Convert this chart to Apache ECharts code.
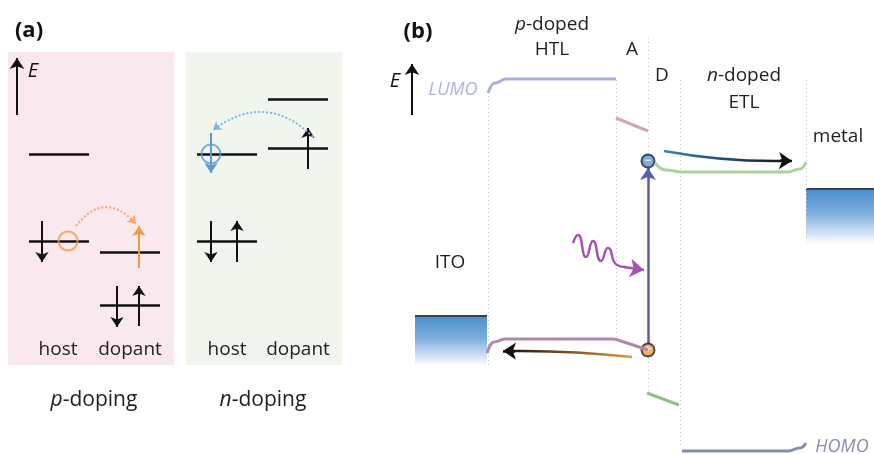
<!DOCTYPE html>
<html>
<head>
<meta charset="utf-8">
<script src="https://cdn.jsdelivr.net/npm/echarts@6/dist/echarts.min.js"></script>
<style>
html, body { margin: 0; padding: 0; background: #fff; }
#chart { width: 874px; height: 454px; }
</style>
</head>
<body>
<div id="chart"></div>
<script>
// everything lives on one pixel-like plane: x 0..874, y 0..454 (down)

// (a) background panels [x0, y0, x1, y1]
const pDopingBox = [8, 52, 174, 365];
const nDopingBox = [186, 52, 342, 365];

// (a) energy levels [x0, x1, y]
const pLevels = [[29, 89, 154], [29, 89, 241], [100, 160, 252], [100, 160, 305]];
const nLevels = [[268, 328, 99], [268, 328, 148], [197, 257, 154], [197, 257, 241]];

// (a) spins [x, yFrom, yTo] (arrow head at yTo)
const spinsBlack = [[42, 221, 262], [117, 286, 327], [139, 326, 286], [308, 169, 128], [211, 221, 262], [237, 262, 221]];
const spinsOrange = [[139, 268, 226]];
const spinsBlue = [[211, 133, 173]];

// (a) holes [x, y]
const holeOrange = [[68, 241]];
const holeBlue = [[211, 154]];

// (a) electron transfer arcs [[x, y], [x, y]]
const arcP = [[76, 226], [136, 224]];
const arcN = [[313, 137], [213, 130]];

// (a) axis arrow
const eArrowA = [[17, 115], [17, 58]];

// (b) layer boundaries [x, yTop, yBottom]
const boundaries = [[488, 88, 365], [616, 80, 338], [648, 38, 392], [680, 80, 448], [806, 80, 240]];

// (b) electrodes [x0, y0, x1, y1]
const itoBox = [415, 316, 487, 366];
const metalBox = [806, 189, 874, 244];

// (b) frontier levels
const htlLumo = [[488, 93], [495, 83], [506, 79], [616, 79]];
const accLumo = [[616, 118], [648, 131]];
const etlLumo = [[655, 163], [666, 170], [682, 172], [788, 172], [800, 169], [806, 162]];
const htlHomoCurve = [[487, 353], [494, 342], [505, 339], [615, 339]];
const htlHomoEdge = [[615, 339], [648, 350]];
const donHomo = [[647, 393], [679, 405]];
const etlHomo = [[682, 451], [788, 451], [800, 448], [806, 443]];

// (b) processes
const excitation = [[648, 344], [648, 168]];
const electronPath = [[664, 151], [786, 161]];
const electronTip = [[780, 160.6], [792, 161]];
const holePath = [[632, 357], [510, 351]];
const holeTip = [[515, 351.1], [503, 351]];
const photonWave = [[573, 243], [578, 235], [586, 257], [593, 241], [601, 261], [608, 248], [617, 265], [626, 267]];
const photonTip = [[624, 267], [644, 270]];
const electron = [[648, 161]];
const hole = [[648, 350]];
const eArrowB = [[412, 115], [412, 64]];

// texts [text, x, y, style]
const labels = [
  ['(a)', 29, 31, 'panel'],
  ['{i|E}', 33, 71, 'eAxis'],
  ['host', 58, 350, 'body'],
  ['dopant', 130, 350, 'body'],
  ['host', 227, 350, 'body'],
  ['dopant', 298, 350, 'body'],
  ['{i|p}-doping', 94, 400, 'big'],
  ['{i|n}-doping', 263, 400, 'big'],
  ['(b)', 418, 32, 'panel'],
  ['{i|E}', 395, 81, 'eAxis'],
  ['{i|p}-doped', 552, 25, 'body'],
  ['HTL', 552, 50, 'body'],
  ['A', 632, 50, 'body'],
  ['D', 662, 76, 'body'],
  ['{i|n}-doped', 744, 76, 'body'],
  ['ETL', 744, 103, 'body'],
  ['metal', 838, 137, 'body'],
  ['ITO', 450, 263, 'body'],
  ['LUMO', 453, 90, 'lumo'],
  ['HOMO', 842, 447, 'homo']
];

const FONT = '"Open Sans", Lato, sans-serif';
const TEXT = '#1f1f1f';
const ORANGE = '#f39a3b';
const BLUE = '#5b9bd5';

const textStyles = {
  panel: { fontSize: 22, fontWeight: 'bold', color: '#111' },
  body: { fontSize: 19, color: TEXT },
  big: { fontSize: 21, color: TEXT },
  eAxis: { fontSize: 20, color: '#111' },
  lumo: { fontSize: 18, fontStyle: 'italic', color: '#aeb5d6' },
  homo: { fontSize: 18, fontStyle: 'italic', color: '#868db0' }
};

const chart = echarts.init(document.getElementById('chart'));

const seg = (a, b) => ({ coords: [a, b] });
const levelSegs = (arr) => arr.map(l => seg([l[0], l[2]], [l[1], l[2]]));
const spinSegs = (arr) => arr.map(s => seg([s[0], s[1]], [s[0], s[2]]));

const rectSeries = (boxes, fillFn, edge) => ({
  type: 'custom',
  silent: true,
  data: boxes,
  encode: { x: [0, 2], y: [1, 3] },
  renderItem: (params, api) => {
    const p0 = api.coord([api.value(0), api.value(1)]);
    const p1 = api.coord([api.value(2), api.value(3)]);
    const children = [{
      type: 'rect',
      shape: { x: p0[0], y: p0[1], width: p1[0] - p0[0], height: p1[1] - p0[1] },
      style: { fill: fillFn(params.dataIndex) }
    }];
    if (edge) {
      children.push({
        type: 'line',
        shape: { x1: p0[0], y1: p0[1], x2: p1[0], y2: p0[1] },
        style: { stroke: edge, lineWidth: 2 }
      });
    }
    return { type: 'group', children };
  }
});

const electrodeFill = () => new echarts.graphic.LinearGradient(0, 0, 0, 1, [
  { offset: 0, color: '#4a8dcb' },
  { offset: 0.45, color: '#7eafdc' },
  { offset: 1, color: 'rgba(255,255,255,1)' }
]);

const linesSeries = (data, style, arrow) => ({
  type: 'lines',
  coordinateSystem: 'cartesian2d',
  silent: true,
  polyline: false,
  data,
  symbol: arrow ? ['none', 'arrow'] : 'none',
  symbolSize: arrow || 0,
  lineStyle: Object.assign({ opacity: 1, curveness: 0 }, style)
});

const curve = (pts, color, width) => ({
  type: 'line',
  silent: true,
  data: pts,
  smooth: 0.5,
  smoothMonotone: 'x',
  symbol: 'none',
  lineStyle: { color, width }
});

// text drawn by a custom series so that nothing tints it
const textSeries = {
  type: 'custom',
  silent: true,
  data: labels.map(t => [t[1], t[2]]),
  encode: { x: 0, y: 1 },
  renderItem: (params, api) => {
    const t = labels[params.dataIndex];
    const st = textStyles[t[3]];
    const p = api.coord([api.value(0), api.value(1)]);
    return {
      type: 'text',
      x: p[0],
      y: p[1],
      style: Object.assign({
        text: t[0],
        fill: st.color,
        font: (st.fontStyle || 'normal') + ' ' + (st.fontWeight || 'normal') + ' ' + st.fontSize + 'px ' + FONT,
        align: 'center',
        verticalAlign: 'middle',
        rich: {
          i: { fontStyle: 'italic', fontSize: st.fontSize, fontFamily: FONT, fill: st.color, fontWeight: st.fontWeight || 'normal' }
        }
      })
    };
  }
};

const series = [
  rectSeries([pDopingBox, nDopingBox], i => (i === 0 ? '#f9e8ee' : '#f0f6ee')),
  rectSeries([itoBox, metalBox], electrodeFill, '#2f4457'),
  // layer boundaries
  linesSeries(boundaries.map(b => seg([b[0], b[1]], [b[0], b[2]])), { color: '#c4c4c4', width: 1, type: [1, 3] }),
  // (a) levels and spins
  linesSeries(levelSegs(pLevels.concat(nLevels)), { color: '#111', width: 2.5 }),
  linesSeries(spinSegs(spinsBlack), { color: '#111', width: 2 }, 10),
  linesSeries(spinSegs(spinsOrange), { color: ORANGE, width: 2 }, 10),
  linesSeries(spinSegs(spinsBlue), { color: BLUE, width: 2 }, 10),
  linesSeries([{ coords: arcP }], { color: '#f5a860', width: 2, type: [2, 2], curveness: 0.6 }, 8),
  linesSeries([{ coords: arcN }], { color: '#7fb3e0', width: 2, type: [2, 2], curveness: -0.43 }, 8),
  linesSeries([{ coords: eArrowA }, { coords: eArrowB }], { color: '#111', width: 2 }, 11),
  {
    type: 'scatter', silent: true, symbol: 'circle', symbolSize: 19,
    data: holeOrange,
    itemStyle: { color: 'rgba(0,0,0,0)', borderColor: ORANGE, borderWidth: 2 }
  },
  {
    type: 'scatter', silent: true, symbol: 'circle', symbolSize: 19,
    data: holeBlue,
    itemStyle: { color: 'rgba(0,0,0,0)', borderColor: BLUE, borderWidth: 2 }
  },
  // (b) levels
  curve(htlLumo, '#a9b1d8', 3),
  curve(accLumo, '#d6a3b4', 3),
  curve(etlLumo, '#a9d39a', 3),
  curve(htlHomoCurve, '#b28aa6', 3),
  curve(htlHomoEdge, '#b28aa6', 3),
  curve(donHomo, '#90c183', 3),
  curve(etlHomo, '#858cb2', 3),
  // (b) processes
  linesSeries([{ coords: excitation }], { color: '#5a5ea6', width: 2.5 }, 12),
  linesSeries([{ coords: electronPath }], {
    width: 2.5, curveness: -0.05,
    color: new echarts.graphic.LinearGradient(0, 0, 1, 0, [{ offset: 0, color: '#3d86c8' }, { offset: 1, color: '#111' }])
  }),
  linesSeries([{ coords: electronTip }], { color: '#111', width: 2.5 }, 13),
  linesSeries([{ coords: holePath }], {
    width: 2.5, curveness: -0.03,
    color: new echarts.graphic.LinearGradient(0, 0, 1, 0, [{ offset: 0, color: '#111' }, { offset: 1, color: ORANGE }])
  }),
  linesSeries([{ coords: holeTip }], { color: '#111', width: 2.5 }, 13),
  {
    type: 'line', silent: true, data: photonWave, smooth: 0.6, symbol: 'none',
    lineStyle: { color: '#a552b2', width: 2.5 }
  },
  linesSeries([{ coords: photonTip }], { color: '#a552b2', width: 2.5 }, 14),
  {
    type: 'scatter', silent: true, symbol: 'circle', symbolSize: 13,
    data: electron,
    itemStyle: { color: BLUE, borderColor: '#1b2633', borderWidth: 2 },
    label: { show: true, position: 'inside', formatter: '\u2212', color: '#fff', fontSize: 11, fontWeight: 'bold', fontFamily: FONT }
  },
  {
    type: 'scatter', silent: true, symbol: 'circle', symbolSize: 13,
    data: hole,
    itemStyle: { color: ORANGE, borderColor: '#1b2633', borderWidth: 2 },
    label: { show: true, position: 'inside', formatter: '+', color: '#fff', fontSize: 12, fontWeight: 'bold', fontFamily: FONT }
  },
  textSeries
];

chart.setOption({
  animation: false,
  backgroundColor: '#fff',
  grid: { left: 0, right: 0, top: 0, bottom: 0 },
  xAxis: { type: 'value', min: 0, max: 874, show: false },
  yAxis: { type: 'value', min: 0, max: 454, inverse: true, show: false },
  series
});
</script>
</body>
</html>
